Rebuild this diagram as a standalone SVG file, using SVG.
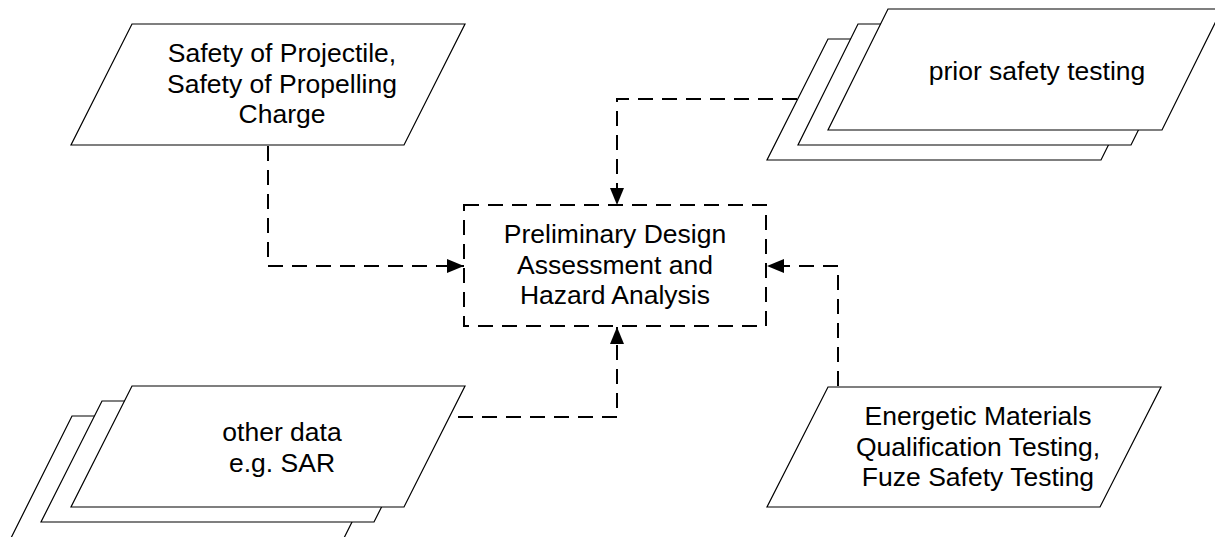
<svg xmlns="http://www.w3.org/2000/svg" width="1215" height="537" viewBox="0 0 1215 537">
<style>
.shape{fill:#fff;stroke:#000;stroke-width:1.2}
.box{fill:#fff;stroke:#000;stroke-width:2;stroke-dasharray:15 9}
.conn{fill:none;stroke:#000;stroke-width:2;stroke-dasharray:15 9}
text{font-family:"Liberation Sans",Arial,sans-serif;font-size:26.5px;fill:#000;text-anchor:middle}
</style>
<defs>
<marker id="arr" markerUnits="userSpaceOnUse" markerWidth="18" markerHeight="15" refX="17" refY="7" orient="auto" viewBox="0 0 18 15">
<path d="M0,0 L17,7 L0,14 Z" fill="#000"/>
</marker>
</defs>
<g id="connectors">
<path class="conn" d="M268,146 V266 H464" marker-end="url(#arr)"/>
<path class="conn" d="M797,99 H617 V205" marker-end="url(#arr)"/>
<path class="conn" d="M458,417 H617 V327" marker-end="url(#arr)"/>
<path class="conn" d="M838,386 V266 H767" marker-end="url(#arr)"/>
</g>
<g id="node-safety">
<polygon class="shape" points="132,24 465,24 404,145 71,145"/>
<text x="282" y="62">Safety of Projectile,</text>
<text x="282" y="92.5">Safety of Propelling</text>
<text x="282" y="123">Charge</text>
</g>
<g id="node-prior">
<polygon class="shape" points="828,39 1161,39 1101,160 767,160"/>
<polygon class="shape" points="858,24 1191,24 1131,145 798,145"/>
<polygon class="shape" points="888,9 1222,9 1162,130 828,130"/>
<text x="1037" y="79.5">prior safety testing</text>
</g>
<g id="node-pdaha">
<rect class="box" x="464" y="205" width="302" height="121"/>
<text x="615" y="243">Preliminary Design</text>
<text x="615" y="273.5">Assessment and</text>
<text x="615" y="304">Hazard Analysis</text>
</g>
<g id="node-other">
<polygon class="shape" points="72,416 405,416 343,540 10,540"/>
<polygon class="shape" points="102,401 435,401 374,522 41,522"/>
<polygon class="shape" points="132,386 465,386 404,507 71,507"/>
<text x="282" y="441">other data</text>
<text x="282" y="471.5">e.g. SAR</text>
</g>
<g id="node-energetic">
<polygon class="shape" points="828,387 1161,387 1100,507 767,507"/>
<text x="978" y="425">Energetic Materials</text>
<text x="978" y="455.5">Qualification Testing,</text>
<text x="978" y="486">Fuze Safety Testing</text>
</g>
</svg>
